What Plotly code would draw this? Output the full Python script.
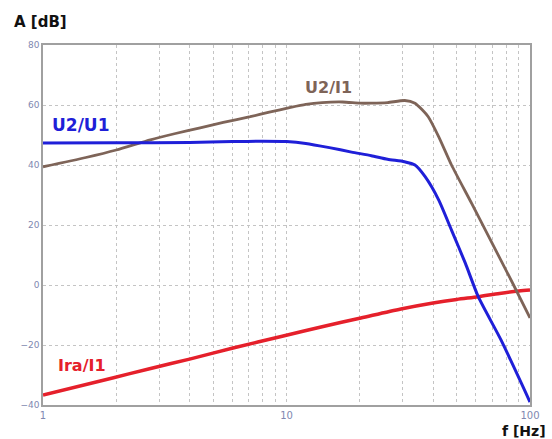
import math
import plotly.graph_objects as go

# U2/U1 (blue)
f_u2u1 = [1, 2, 4, 6, 8, 10, 12, 15, 18.5, 22.3, 26, 30.5, 33.7, 37.1, 42.2, 47.6, 54.3, 61.3, 76, 100]
a_u2u1 = [47.3, 47.4, 47.5, 47.8, 47.9, 47.8, 47.2, 45.8, 44.3, 43.1, 41.9, 41.1, 40.0, 36.1, 28.3, 18.3, 7.2, -3.9, -18.3, -39.0]

# U2/I1 (brown)
f_u2i1 = [1, 1.5, 2, 2.76, 3.5, 4.42, 5.5, 7.1, 8.5, 10.4, 12, 14, 17, 20, 22.3, 26, 30.6, 33.7, 36, 38.2, 42.2, 47.6, 57.6, 67.7, 84.4, 100]
a_u2i1 = [39.4, 42.5, 45.0, 48.4, 50.5, 52.4, 54.2, 56.1, 57.6, 59.2, 60.2, 60.8, 61.0, 60.6, 60.6, 60.8, 61.5, 60.6, 58.5, 56.1, 49.4, 40.0, 27.2, 16.1, 1.0, -11.0]

# Ira/I1 (red)
f_irai1 = [1, 1.93, 2.74, 4, 6.03, 9.7, 14, 20.2, 29.5, 40, 50, 61.3, 75, 90, 100]
a_irai1 = [-36.7, -31.0, -27.9, -24.7, -21.0, -17.0, -13.9, -11.0, -8.0, -6.0, -4.8, -3.9, -2.8, -2.0, -1.7]

x_ticks = [1, 10, 100]
x_minor = [2, 3, 4, 5, 6, 7, 8, 9, 20, 30, 40, 50, 60, 70, 80, 90]
y_ticks = [-40, -20, 0, 20, 40, 60, 80]

BLUE = "#1f1fd8"
BROWN = "#7e6458"
RED = "#e5202b"

fig = go.Figure()
fig.add_trace(go.Scatter(x=f_irai1, y=a_irai1, mode="lines", line=dict(color=RED, width=3.5, shape="spline", smoothing=0.8), showlegend=False))
fig.add_trace(go.Scatter(x=f_u2i1, y=a_u2i1, mode="lines", line=dict(color=BROWN, width=2.8, shape="spline", smoothing=0.6), showlegend=False))
fig.add_trace(go.Scatter(x=f_u2u1, y=a_u2u1, mode="lines", line=dict(color=BLUE, width=3, shape="spline", smoothing=0.6), showlegend=False))

lab_font = "DejaVu Sans"
fig.add_annotation(x=math.log10(1.42), y=53.5, text="<b>U2/U1</b>", showarrow=False,
                   font=dict(family=lab_font, size=17, color=BLUE))
fig.add_annotation(x=math.log10(14.9), y=66.0, text="<b>U2/I1</b>", showarrow=False,
                   font=dict(family=lab_font, size=16, color=BROWN))
fig.add_annotation(x=math.log10(1.45), y=-26.8, text="<b>Ira/I1</b>", showarrow=False,
                   font=dict(family=lab_font, size=16, color=RED))
fig.add_annotation(xref="paper", yref="paper", x=-0.064, y=1.064, xanchor="left", yanchor="middle",
                   text="<b>A [dB]</b>", showarrow=False, font=dict(family=lab_font, size=15, color="#111"))
fig.add_annotation(xref="paper", yref="paper", x=1.037, y=-0.072, xanchor="right", yanchor="middle",
                   text="<b>f [Hz]</b>", showarrow=False, font=dict(family=lab_font, size=14, color="#111"))

grid_col = "#c4c4c4"
gd = "3px,3px"
fig.update_xaxes(type="log", range=[0, 2], tickvals=x_ticks, ticktext=[str(v) for v in x_ticks],
                 showgrid=True, gridcolor=grid_col, griddash=gd, gridwidth=1,
                 minor=dict(tickvals=x_minor, showgrid=True, gridcolor=grid_col, griddash=gd, gridwidth=1, ticks=""),
                 showline=True, mirror=True, linecolor="#a0a0a0", linewidth=1.5,
                 ticks="", zeroline=False, ticklabelstandoff=0,
                 tickfont=dict(family="DejaVu Sans", size=10, color="#8088b0"))
fig.update_yaxes(range=[-40, 80], tickvals=y_ticks,
                 showgrid=True, gridcolor=grid_col, griddash=gd, gridwidth=1,
                 showline=True, mirror=True, linecolor="#a0a0a0", linewidth=1.5,
                 ticks="", zeroline=False,
                 tickfont=dict(family="DejaVu Sans", size=9, color="#8088b0"))

fig.update_layout(width=552, height=439, margin=dict(l=43, r=22, t=45, b=34),
                  plot_bgcolor="white", paper_bgcolor="white")

fig.write_html("out.html")
